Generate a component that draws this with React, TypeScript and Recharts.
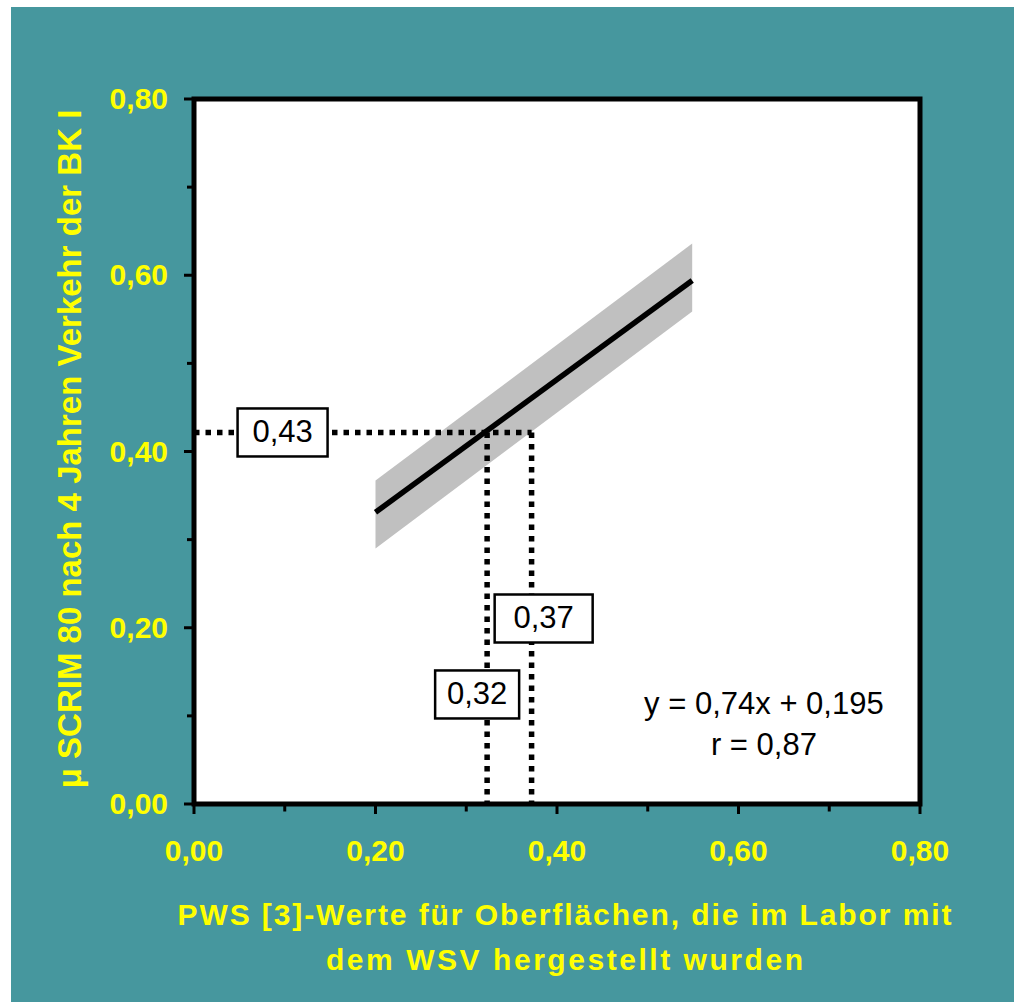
import React from 'react';
import {
  ComposedChart,
  XAxis,
  YAxis,
  Area,
  Line,
  ReferenceLine,
  ReferenceArea,
  ReferenceDot,
  CartesianGrid,
  Customized,
} from 'recharts';

// ---- data ----
const axisTicks = [0, 0.1, 0.2, 0.3, 0.4, 0.5, 0.6, 0.7, 0.8];
const bandX = [0.2, 0.549];
const bandLow = [0.29, 0.559];
const bandHigh = [0.367, 0.636];
const fitY = [0.331, 0.594];

// dotted read-off guides
const readY = 0.4216;
const readX1 = 0.323;
const readX2 = 0.372;

// annotation boxes: text, x, y, box width (px)
const boxLabels = ['0,43', '0,37', '0,32'];
const boxX = [0.0976, 0.3853, 0.312];
const boxY = [0.4216, 0.2105, 0.1243];
const boxW = [90, 98, 84];

const equationLines = ['y = 0,74x + 0,195', 'r = 0,87'];
const equationPos = { x: 0.628, y: 0.08 };

const xTitleLines = ['PWS [3]-Werte für Oberflächen, die im Labor mit', 'dem WSV hergestellt wurden'];
const yTitle = 'μ SCRIM 80 nach 4 Jahren Verkehr der BK I';

const data = bandX.map((x, i) => ({ x, band: [bandLow[i], bandHigh[i]], fit: fitY[i] }));

const FONT = '"Liberation Sans", Arial, sans-serif';
const YELLOW = '#FFFF00';
const TEAL = '#46979E';

const fmt = (v: number) => v.toFixed(2).replace('.', ',');
const isMajor = (v: number) => Math.round(v * 10) % 2 === 0;

const XTick = (props: any) => {
  const { x, y, payload } = props;
  const v = payload.value as number;
  const major = isMajor(v);
  return (
    <g>
      <line x1={x} x2={x} y1={y} y2={y + (major ? 10 : 7.5)} stroke="#000" strokeWidth={3} />
      {major && (
        <text x={x} y={y + 57} textAnchor="middle" fill={YELLOW} fontSize={30} fontWeight="bold" fontFamily={FONT}>
          {fmt(v)}
        </text>
      )}
    </g>
  );
};

const YTick = (props: any) => {
  const { x, y, payload } = props;
  const v = payload.value as number;
  const major = isMajor(v);
  return (
    <g>
      <line x1={x - (major ? 10 : 7)} x2={x} y1={y} y2={y} stroke="#000" strokeWidth={3} />
      {major && (
        <text x={x - 26} y={y + 10} textAnchor="end" fill={YELLOW} fontSize={30} fontWeight="bold" fontFamily={FONT}>
          {fmt(v)}
        </text>
      )}
    </g>
  );
};

const makeBox = (label: string, w: number) => (props: any) => {
  const { cx, cy } = props;
  return (
    <g>
      <rect x={cx - w / 2} y={cy - 24} width={w} height={48} fill="#fff" stroke="#000" strokeWidth={2.5} />
      <text x={cx} y={cy + 10} textAnchor="middle" fontSize={31} fontFamily={FONT} fill="#000">
        {label}
      </text>
    </g>
  );
};

const EquationShape = (props: any) => {
  const { cx, cy } = props;
  return (
    <g>
      <text x={cx} y={cy - 20} textAnchor="middle" fontSize={31} fontFamily={FONT} fill="#000">
        {equationLines[0]}
      </text>
      <text x={cx} y={cy + 21} textAnchor="middle" fontSize={31} fontFamily={FONT} fill="#000">
        {equationLines[1]}
      </text>
    </g>
  );
};

const Titles = () => (
  <g>
    <text
      x={564.5}
      y={925}
      textAnchor="middle"
      fill={YELLOW}
      fontSize={30}
      fontWeight="bold"
      fontFamily={FONT}
      textLength={774}
      lengthAdjust="spacing"
    >
      {xTitleLines[0]}
    </text>
    <text
      x={564.5}
      y={970}
      textAnchor="middle"
      fill={YELLOW}
      fontSize={30}
      fontWeight="bold"
      fontFamily={FONT}
      textLength={477}
      lengthAdjust="spacing"
    >
      {xTitleLines[1]}
    </text>
    <text
      transform="rotate(-90)"
      x={-449}
      y={81}
      textAnchor="middle"
      fill={YELLOW}
      fontSize={33}
      fontWeight="bold"
      fontFamily={FONT}
    >
      {yTitle}
    </text>
  </g>
);

export default function App() {
  return (
    <div style={{ position: 'absolute', left: 0, top: 0, width: 1014, height: 1002, background: '#fff', overflow: 'hidden' }}>
      <div style={{ position: 'absolute', left: 11, top: 7, right: 0, bottom: 0, background: TEAL }} />
      <div style={{ position: 'absolute', left: 0, top: 0 }}>
        <ComposedChart width={1014} height={1002} data={data} margin={{ top: 99, right: 94, bottom: 197, left: 193 }}>
          <CartesianGrid fill="#fff" fillOpacity={1} horizontal={false} vertical={false} />
          <XAxis
            dataKey="x"
            type="number"
            domain={[0, 0.8]}
            ticks={axisTicks}
            interval={0}
            axisLine={false}
            tickLine={false}
            tickSize={0}
            tickMargin={0}
            height={1}
            tick={<XTick />}
          />
          <YAxis
            type="number"
            domain={[0, 0.8]}
            ticks={axisTicks}
            interval={0}
            axisLine={false}
            tickLine={false}
            tickSize={0}
            tickMargin={0}
            width={1}
            tick={<YTick />}
          />
          <Area
            dataKey="band"
            type="linear"
            fill="#C0C0C0"
            fillOpacity={1}
            stroke="none"
            isAnimationActive={false}
            dot={false}
            activeDot={false}
          />
          <Line
            dataKey="fit"
            type="linear"
            stroke="#000"
            strokeWidth={5.5}
            dot={false}
            activeDot={false}
            isAnimationActive={false}
          />
          <ReferenceLine
            segment={[{ x: 0, y: readY }, { x: readX2, y: readY }]}
            stroke="#000"
            strokeWidth={5.5}
            strokeDasharray="5.5 6"
            ifOverflow="visible"
          />
          <ReferenceLine
            segment={[{ x: readX1, y: readY }, { x: readX1, y: -0.006 }]}
            stroke="#000"
            strokeWidth={5.5}
            strokeDasharray="5.5 6"
            ifOverflow="visible"
          />
          <ReferenceLine
            segment={[{ x: readX2, y: readY }, { x: readX2, y: -0.006 }]}
            stroke="#000"
            strokeWidth={5.5}
            strokeDasharray="5.5 6"
            ifOverflow="visible"
          />
          <ReferenceArea x1={0} x2={0.8} y1={0} y2={0.8} fill="none" stroke="#000" strokeWidth={5} ifOverflow="visible" />
          {boxLabels.map((label, i) => (
            <ReferenceDot
              key={label}
              x={boxX[i]}
              y={boxY[i]}
              r={1}
              ifOverflow="visible"
              shape={makeBox(label, boxW[i])}
            />
          ))}
          <ReferenceDot x={equationPos.x} y={equationPos.y} r={1} ifOverflow="visible" shape={EquationShape} />
          <Customized component={Titles} />
        </ComposedChart>
      </div>
    </div>
  );
}
